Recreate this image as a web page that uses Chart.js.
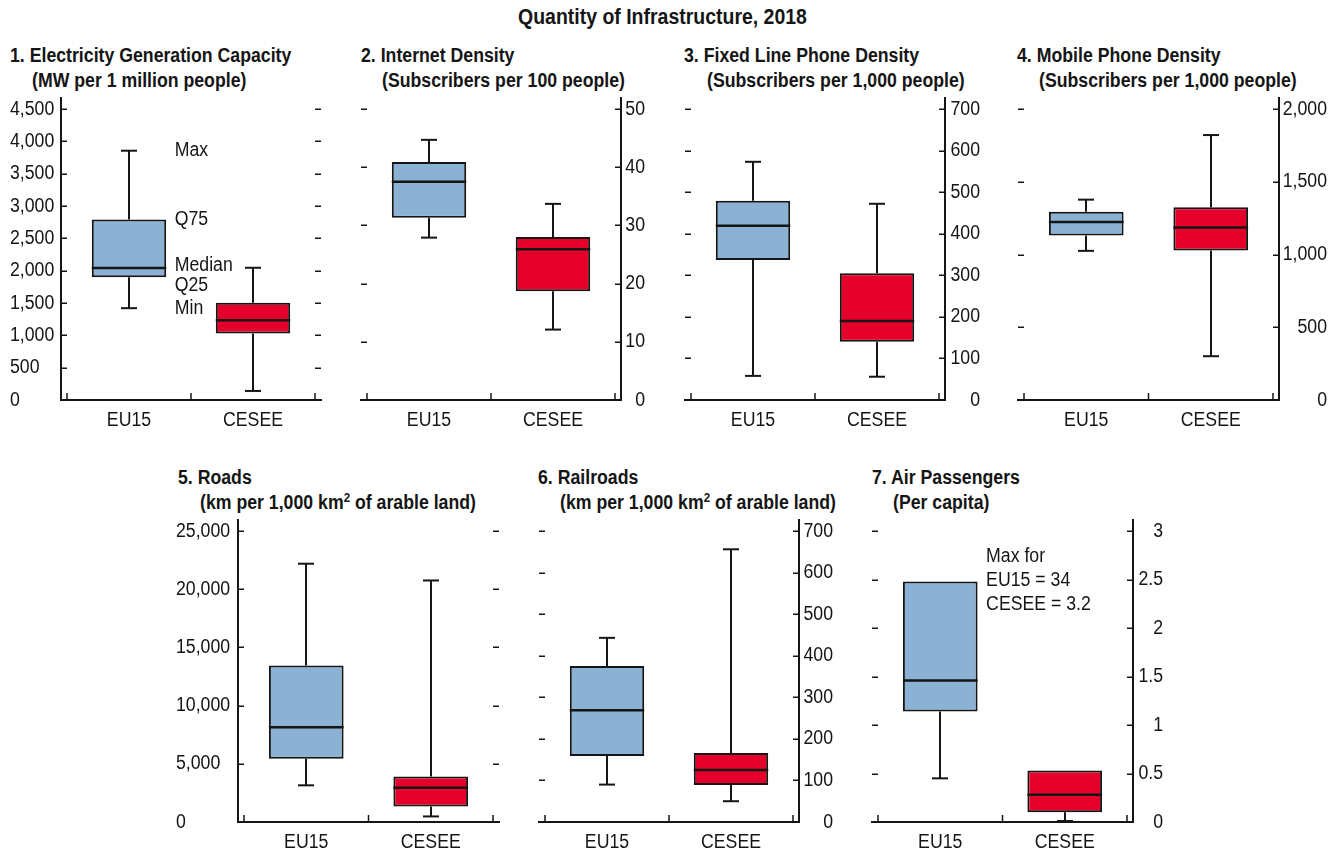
<!DOCTYPE html>
<html>
<head>
<meta charset="utf-8">
<script src="https://cdn.jsdelivr.net/npm/chart.js@4.4.1/dist/chart.umd.min.js"></script>
<style>
  html, body { margin: 0; padding: 0; background: #ffffff; }
  body { width: 1340px; height: 854px; position: relative; overflow: hidden;
         font-family: "Liberation Sans", Arial, sans-serif; color: #151515; }
  canvas { position: absolute; left: 0; top: 0; }
  .t { position: absolute; white-space: nowrap; font-weight: bold; font-size: 20px; line-height: 24px;
       transform: scaleX(0.885); transform-origin: 0 50%; }
  .main { position: absolute; left: 0; top: 5px; width: 1325px; text-align: center; font-weight: bold;
          font-size: 22px; line-height: 24px; transform: scaleX(0.885); transform-origin: 50% 50%; }
  sup { font-size: 13px; line-height: 0; vertical-align: 7px; }
</style>
</head>
<body>
<div class="main">Quantity of Infrastructure, 2018</div>

<div class="t" style="left:10px;top:43px">1. Electricity Generation Capacity</div>
<div class="t" style="left:32px;top:68px">(MW per 1 million people)</div>
<div class="t" style="left:361px;top:43px">2. Internet Density</div>
<div class="t" style="left:382px;top:68px">(Subscribers per 100 people)</div>
<div class="t" style="left:684px;top:43px">3. Fixed Line Phone Density</div>
<div class="t" style="left:707px;top:68px">(Subscribers per 1,000 people)</div>
<div class="t" style="left:1017px;top:43px">4. Mobile Phone Density</div>
<div class="t" style="left:1039px;top:68px">(Subscribers per 1,000 people)</div>
<div class="t" style="left:178px;top:465px">5. Roads</div>
<div class="t" style="left:200px;top:490px">(km per 1,000 km<sup>2</sup> of arable land)</div>
<div class="t" style="left:538px;top:465px">6. Railroads</div>
<div class="t" style="left:560px;top:490px">(km per 1,000 km<sup>2</sup> of arable land)</div>
<div class="t" style="left:872px;top:465px">7. Air Passengers</div>
<div class="t" style="left:893px;top:490px">(Per capita)</div>

<canvas id="p1" width="1340" height="854"></canvas>
<canvas id="p2" width="1340" height="854"></canvas>
<canvas id="p3" width="1340" height="854"></canvas>
<canvas id="p4" width="1340" height="854"></canvas>
<canvas id="p5" width="1340" height="854"></canvas>
<canvas id="p6" width="1340" height="854"></canvas>
<canvas id="p7" width="1340" height="854"></canvas>

<script>
// ---------------- DATA ----------------
const categories = ['EU15', 'CESEE'];

// 1. Electricity generation capacity (MW per 1 million people)
const elecMin    = [1420, 140];
const elecQ25    = [1900, 1030];
const elecMedian = [2040, 1235];
const elecQ75    = [2790, 1505];
const elecMax    = [3855, 2045];
const elecTicks  = [0, 500, 1000, 1500, 2000, 2500, 3000, 3500, 4000, 4500];

// 2. Internet density (subscribers per 100 people)
const netMin    = [27.9, 12.1];
const netQ25    = [31.3, 18.7];
const netMedian = [37.5, 25.9];
const netQ75    = [40.9, 28.0];
const netMax    = [44.7, 33.7];
const netTicks  = [0, 10, 20, 30, 40, 50];

// 3. Fixed line phone density (subscribers per 1,000 people)
const fixMin    = [58, 56];
const fixQ25    = [337, 140];
const fixMedian = [419, 190];
const fixQ75    = [479, 305];
const fixMax    = [573, 472];
const fixTicks  = [0, 100, 200, 300, 400, 500, 600, 700];

// 4. Mobile phone density (subscribers per 1,000 people)
const mobMin    = [1025, 301];
const mobQ25    = [1131, 1028];
const mobMedian = [1223, 1186];
const mobQ75    = [1294, 1324];
const mobMax    = [1377, 1821];
const mobTicks  = [0, 500, 1000, 1500, 2000];

// 5. Roads (km per 1,000 km2 of arable land)
const roadMin    = [3150, 480];
const roadQ25    = [5440, 1340];
const roadMedian = [8140, 2950];
const roadQ75    = [13440, 3900];
const roadMax    = [22190, 20750];
const roadTicks  = [0, 5000, 10000, 15000, 20000, 25000];

// 6. Railroads (km per 1,000 km2 of arable land)
const railMin    = [90, 50];
const railQ25    = [159, 89];
const railMedian = [269, 125];
const railQ75    = [375, 166];
const railMax    = [443, 656];
const railTicks  = [0, 100, 200, 300, 400, 500, 600, 700];

// 7. Air passengers (per capita) - maxima fall outside the axis
const airMin    = [0.45, 0.01];
const airQ25    = [1.14, 0.10];
const airMedian = [1.46, 0.28];
const airQ75    = [2.48, 0.53];
const airMax    = [34, 3.2];
const airTicks  = [0, 0.5, 1, 1.5, 2, 2.5, 3];

// ---------------- STYLE / LAYOUT ----------------
const boxColors = ['#8BB1D4', '#E5002B'];
const INK = '#151515';
const FONT = '"Liberation Sans", Arial, sans-serif';
const SQUEEZE = 0.885;          // condensed look
const PAGE_W = 1340, PAGE_H = 854, XAXIS_H = 40;

const panels = [
  { id: 'p1', min: elecMin, q25: elecQ25, med: elecMedian, q75: elecQ75, max: elecMax, ticks: elecTicks,
    side: 'left', area: { l: 67, r: 315, t: 109, b: 400 }, labelEdge: 10,
    notes: [['Max', elecMax[0], 0], ['Q75', elecQ75[0], 0], ['Median', elecMedian[0], -3], ['Q25', elecQ25[0], 8], ['Min', elecMin[0], 0]] },
  { id: 'p2', min: netMin, q25: netQ25, med: netMedian, q75: netQ75, max: netMax, ticks: netTicks,
    side: 'right', area: { l: 367, r: 615, t: 109, b: 400 }, labelEdge: 645 },
  { id: 'p3', min: fixMin, q25: fixQ25, med: fixMedian, q75: fixQ75, max: fixMax, ticks: fixTicks,
    side: 'right', area: { l: 691, r: 939, t: 109, b: 400 }, labelEdge: 980 },
  { id: 'p4', min: mobMin, q25: mobQ25, med: mobMedian, q75: mobQ75, max: mobMax, ticks: mobTicks,
    side: 'right', area: { l: 1024, r: 1273, t: 109, b: 400 }, labelEdge: 1327 },
  { id: 'p5', min: roadMin, q25: roadQ25, med: roadMedian, q75: roadQ75, max: roadMax, ticks: roadTicks,
    side: 'left', area: { l: 244, r: 493, t: 531, b: 822 }, labelEdge: 176 },
  { id: 'p6', min: railMin, q25: railQ25, med: railMedian, q75: railQ75, max: railMax, ticks: railTicks,
    side: 'right', area: { l: 545, r: 793, t: 531, b: 822 }, labelEdge: 833 },
  { id: 'p7', min: airMin, q25: airQ25, med: airMedian, q75: airQ75, max: airMax, ticks: airTicks,
    side: 'right', area: { l: 878, r: 1127, t: 531, b: 822 }, labelEdge: 1163,
    notes: [['Max for', 2.74, 0], ['EU15 = ' + airMax[0], 2.74, 24], ['CESEE = ' + airMax[1], 2.74, 48]] }
];

const fmt = v => Number(v).toLocaleString('en-US');

function drawText(ctx, txt, x, y, align) {
  ctx.save();
  ctx.translate(x, y);
  ctx.scale(SQUEEZE, 1);
  ctx.textAlign = align || 'left';
  ctx.fillText(txt, 0, 0);
  ctx.restore();
}

const boxWhiskerPlugin = {
  id: 'boxWhisker',
  afterDatasetsDraw(chart, args, opts) {
    const p = opts.panel;
    const ctx = chart.ctx, y = chart.scales.y;
    const meta = chart.getDatasetMeta(0);
    const yTop = y.max;
    ctx.save();
    ctx.strokeStyle = INK;
    ctx.lineCap = 'butt';
    meta.data.forEach((bar, i) => {
      const x = Math.round(bar.x);
      const half = bar.width / 2;
      const cap = 8;
      ctx.lineWidth = 2;
      // upper whisker (only when the maximum lies on the scale)
      if (p.max[i] != null && p.max[i] <= yTop) {
        const y1 = y.getPixelForValue(p.q75[i]), y2 = y.getPixelForValue(p.max[i]);
        ctx.beginPath(); ctx.moveTo(x, y1); ctx.lineTo(x, y2); ctx.stroke();
        ctx.beginPath(); ctx.moveTo(x - cap, y2); ctx.lineTo(x + cap, y2); ctx.stroke();
      }
      // lower whisker
      if (p.min[i] != null) {
        const y1 = y.getPixelForValue(p.q25[i]), y2 = y.getPixelForValue(p.min[i]);
        ctx.beginPath(); ctx.moveTo(x, y1); ctx.lineTo(x, y2); ctx.stroke();
        ctx.beginPath(); ctx.moveTo(x - cap, y2); ctx.lineTo(x + cap, y2); ctx.stroke();
      }
      // median
      ctx.lineWidth = 2.5;
      const ym = y.getPixelForValue(p.med[i]);
      ctx.beginPath(); ctx.moveTo(bar.x - half, ym); ctx.lineTo(bar.x + half, ym); ctx.stroke();
    });
    // notes next to the first box
    if (p.notes) {
      const bar = meta.data[0];
      const nx = bar.x + bar.width / 2 + 8.5;
      ctx.fillStyle = INK;
      ctx.font = '20px ' + FONT;
      ctx.textBaseline = 'middle';
      p.notes.forEach(([txt, val, dy]) => drawText(ctx, txt, nx, y.getPixelForValue(val) + dy, 'left'));
    }
    ctx.restore();
  },
  afterDraw(chart, args, opts) {
    const p = opts.panel;
    const ctx = chart.ctx, ca = chart.chartArea, y = chart.scales.y, xs = chart.scales.x;
    const L = ca.left, R = ca.right, T = ca.top, B = y.getPixelForValue(0);
    const g = 6;
    ctx.save();
    ctx.strokeStyle = INK;
    // tick dashes on both sides
    ctx.lineWidth = 1.5;
    p.ticks.forEach(v => {
      const py = Math.round(y.getPixelForValue(v)) + 0.25;
      ctx.beginPath(); ctx.moveTo(L - g, py); ctx.lineTo(L, py); ctx.stroke();
      ctx.beginPath(); ctx.moveTo(R, py); ctx.lineTo(R + g, py); ctx.stroke();
    });
    // y axis line
    ctx.lineWidth = 2;
    const ax = p.side === 'left' ? L - g : R + g;
    ctx.beginPath(); ctx.moveTo(ax, T - 12); ctx.lineTo(ax, B + 1); ctx.stroke();
    // x axis line
    ctx.beginPath(); ctx.moveTo(L - g - 1, B); ctx.lineTo(R + g + 1, B); ctx.stroke();
    // category separators
    ctx.lineWidth = 1.5;
    [L, (L + R) / 2, R].forEach(px => {
      ctx.beginPath(); ctx.moveTo(px, B - 7); ctx.lineTo(px, B); ctx.stroke();
    });
    // tick labels (condensed)
    ctx.fillStyle = INK;
    ctx.font = '20px ' + FONT;
    ctx.textBaseline = 'middle';
    p.ticks.forEach(v => {
      drawText(ctx, fmt(v), p.labelEdge, y.getPixelForValue(v), p.side === 'left' ? 'left' : 'right');
    });
    categories.forEach((c, i) => {
      drawText(ctx, c, xs.getPixelForValue(i), B + 20, 'center');
    });
    ctx.restore();
  }
};

Chart.defaults.font.family = FONT;
Chart.defaults.color = INK;

panels.forEach(p => {
  const yWidth = p.side === 'left' ? p.area.l - p.labelEdge : p.labelEdge - p.area.r;
  const padLeft = p.side === 'left' ? p.labelEdge : p.area.l;
  const padRight = p.side === 'left' ? PAGE_W - p.area.r : PAGE_W - p.labelEdge;
  new Chart(document.getElementById(p.id), {
    type: 'bar',
    data: {
      labels: categories,
      datasets: [{
        data: categories.map((c, i) => [p.q25[i], p.q75[i]]),
        backgroundColor: boxColors,
        borderColor: INK,
        borderWidth: 2,
        borderSkipped: false,
        barPercentage: 0.6,
        categoryPercentage: 1.0
      }]
    },
    options: {
      responsive: false,
      animation: false,
      devicePixelRatio: 1,
      layout: { padding: { left: padLeft, right: padRight, top: p.area.t, bottom: PAGE_H - p.area.b - XAXIS_H } },
      plugins: { legend: { display: false }, tooltip: { enabled: false }, boxWhisker: { panel: p } },
      scales: {
        x: {
          grid: { display: false, drawTicks: false },
          border: { display: false },
          ticks: { display: false },
          afterFit: s => { s.height = XAXIS_H; }
        },
        y: {
          position: p.side,
          min: p.ticks[0],
          max: p.ticks[p.ticks.length - 1],
          grid: { display: false, drawTicks: false },
          border: { display: false },
          afterBuildTicks: s => { s.ticks = p.ticks.map(v => ({ value: v })); },
          afterFit: s => { s.width = yWidth; },
          ticks: { display: false }
        }
      }
    },
    plugins: [boxWhiskerPlugin]
  });
});
</script>
</body>
</html>
